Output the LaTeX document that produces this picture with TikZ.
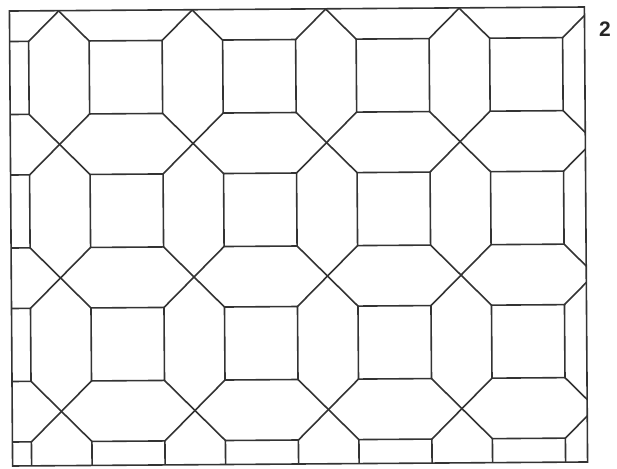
\documentclass[tikz,border=0pt]{standalone}
\usepackage{fontspec}
\setmainfont{Liberation Sans}
\begin{document}
\begin{tikzpicture}[x=1pt,y=-1pt,
  ln/.style={line width=1.6pt, draw=black!80, line join=miter},
  sq/.style={ln, fill=white}]
\useasboundingbox[fill=white] (0,0) rectangle (617,468);
\begin{scope}[rotate around={0.4:(298,237)}]
  \begin{scope}
    \clip (11,9) rectangle (586,464);
    % diagonals x - y = c
    \foreach \m in {-5,...,5} {
      \pgfmathsetmacro{\c}{51+\m*133.5}
      \draw[ln] ({\c-100},-100) -- ({\c+700},700);
    }
    % diagonals x + y = s
    \foreach \m in {-2,...,8} {
      \pgfmathsetmacro{\s}{203+\m*133.5}
      \draw[ln] ({\s+100},-100) -- ({\s-700},700);
    }
    % squares
    \foreach \i in {-1,...,5} {
      \foreach \j in {-1,...,4} {
        \pgfmathsetmacro{\cx}{127+\i*133.5}
        \pgfmathsetmacro{\cy}{76+\j*133.5}
        \draw[sq] ({\cx-36.5},{\cy-36.5}) rectangle ({\cx+36.5},{\cy+36.5});
      }
    }
  \end{scope}
  \draw[ln] (11,9) rectangle (586,464);
\end{scope}
\node[text=black!85] (lbl) at (605,29) {\fontsize{21}{21}\selectfont\bfseries 2};
\end{tikzpicture}
\end{document}
